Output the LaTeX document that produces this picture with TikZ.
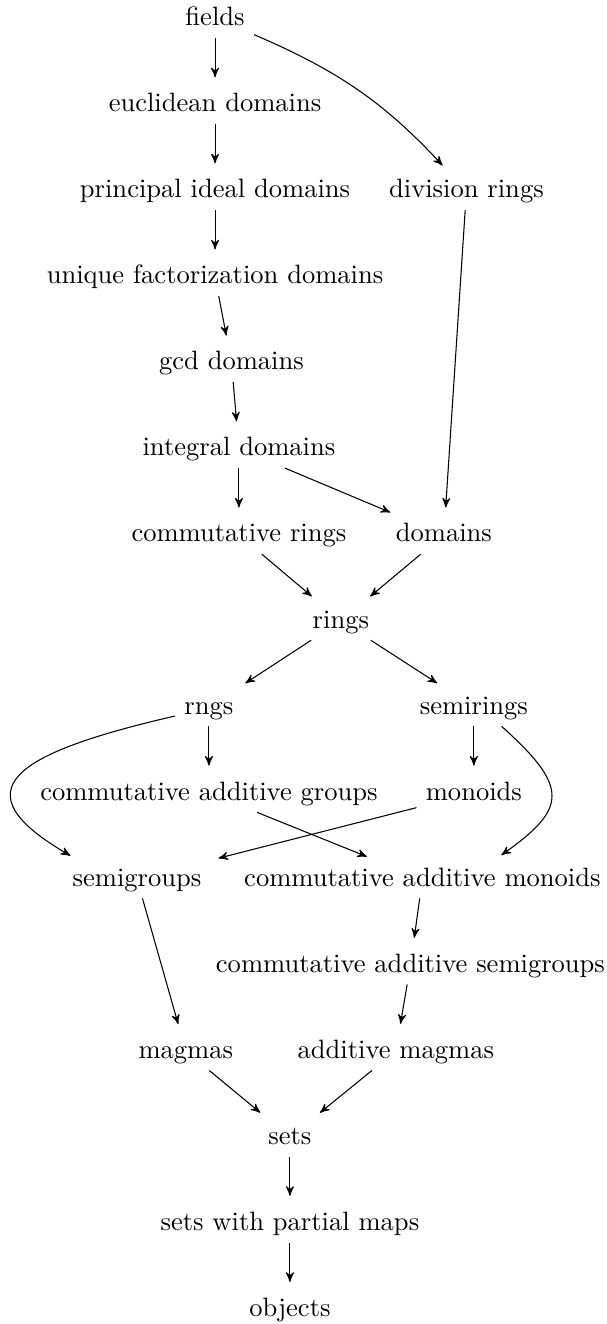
\documentclass[tikz,border=0pt]{standalone}
\usetikzlibrary{arrows,positioning}
\begin{document}
\begin{tikzpicture}[cat/.style={text height=1.5ex, text depth=.25ex}, node distance=1.78em, >=stealth', shorten >=3pt]
		\useasboundingbox (-81pt,7pt) rectangle (147.6pt,-491.7pt);
		% nodes, row by row
		\node [cat] (fields) {fields};
		\node [cat, below=of fields] (eucl) {euclidean domains};
		\node [cat, below=of eucl] (pid) {principal ideal domains};
		\node [cat, below=of eucl, xshift=9.47em] (divr) {division rings};
		\node [cat, below=of pid] (ufd) {unique factorization domains};
		\node [cat, below=of ufd, xshift=0.62em] (gcd) {gcd domains};
		\node [cat, below=of gcd, xshift=0.28em] (intd) {integral domains};
		\node [cat, below=of intd] (crings) {commutative rings};
		\node [cat, below=of intd, xshift=7.72em] (dom) {domains};
		\node [cat, below=of crings, xshift=3.84em] (rings) {rings};
		\node [cat, below=of rings, xshift=-4.97em] (rngs) {rngs};
		\node [cat, below=of rings, xshift=5.01em] (semir) {semirings};
		\node [cat, below=of rngs] (cag) {commutative additive groups};
		\node [cat, below=of semir] (mon) {monoids};
		\node [cat, below=of cag, xshift=-2.71em] (semig) {semigroups};
		\node [cat, below=of mon, xshift=-1.94em] (cam) {commutative additive monoids};
		\node [cat, below=of cam, xshift=-0.45em] (cas) {commutative additive semigroups};
		\node [cat, below=of cas, xshift=-8.46em] (magmas) {magmas};
		\node [cat, below=of cas, xshift=-0.55em] (addm) {additive magmas};
		\node [cat, below=of addm, xshift=-3.99em] (sets) {sets};
		\node [cat, below=of sets] (swpm) {sets with partial maps};
		\node [cat, below=of swpm] (obj) {objects};

		\draw [->] (fields) -- (eucl);
		\draw [->] (fields) to [bend left=12] (divr);
		\draw [->] (eucl) -- (pid);
		\draw [->] (pid) -- (ufd);
		\draw [->] (ufd) -- (gcd);
		\draw [->] (gcd) -- (intd);
		\draw [->] (divr) -- (dom);
		\draw [->] (intd) -- (crings);
		\draw [->] (intd) -- (dom);
		\draw [->] (crings) -- (rings);
		\draw [->] (dom) -- (rings);
		\draw [->] (rings) -- (rngs);
		\draw [->] (rings) -- (semir);
		\draw [->] (rngs) -- (cag);
		\draw [->] (semir) -- (mon);
		\draw [->] (rngs.195) .. controls +(193:62pt) and +(150:52.7pt) .. (semig.162);
		\draw [->] (semir.-35) .. controls +(-42:33.9pt) and +(35:33.9pt) .. (cam.15);
		\draw [->] (mon) -- (semig);
		\draw [->] (cag) -- (cam);
		\draw [->] (cam) -- (cas);
		\draw [->] (semig) -- (magmas);
		\draw [->] (cas) -- (addm);
		\draw [->] (magmas) -- (sets);
		\draw [->] (addm) -- (sets);
		\draw [->] (sets) -- (swpm);
		\draw [->] (swpm) -- (obj);
	\end{tikzpicture}
\end{document}
